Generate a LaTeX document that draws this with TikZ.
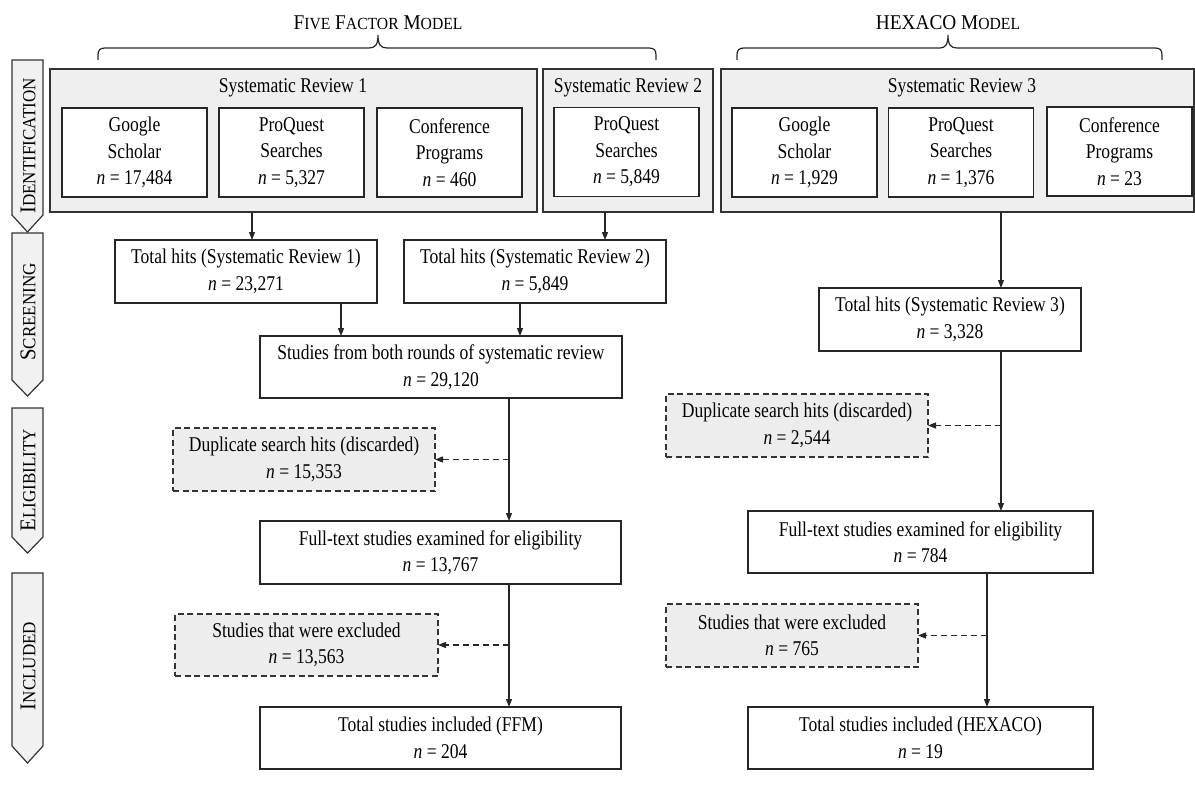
\documentclass[tikz,border=0pt]{standalone}
\usepackage{fontspec}
\setmainfont{Liberation Serif}[FakeStretch=0.835]
\newfontfamily\lblfont{Liberation Serif}[FakeStretch=0.92]
\usetikzlibrary{arrows.meta}
\definecolor{panelgray}{HTML}{EFEFEF}
\definecolor{dashgray}{HTML}{EDEDED}
\definecolor{chevgray}{HTML}{F1F1F1}
\definecolor{linegray}{HTML}{333333}
\newcommand{\smc}[1]{{\fontsize{17}{20}\selectfont #1}}
\newcommand{\smcl}[1]{{\fontsize{18.5}{20}\selectfont #1}}
\begin{document}
\begin{tikzpicture}[x=1pt,y=-1pt,
  every node/.style={font=\fontsize{21}{26.5}\selectfont, inner sep=0pt, outer sep=0pt},
  panel/.style={draw=linegray, line width=1.3pt, fill=panelgray},
  wbox/.style={draw=black!85, line width=1.5pt, fill=white, align=center},
  dbox/.style={draw=black!80, line width=1.3pt, dash pattern=on 6pt off 3.5pt, fill=dashgray, align=center},
  arr/.style={-{Triangle[length=8pt,width=6pt]}, line width=1.2pt, draw=black!85},
  darr/.style={arr, dash pattern=on 6pt off 4pt},
  chev/.style={draw=linegray, line width=1.2pt, fill=chevgray},
  brc/.style={draw=black!85, line width=1.2pt},
  lbl/.style={rotate=90, font=\lblfont\fontsize{22.5}{24}\selectfont},
  hdr/.style={font=\lblfont\fontsize{21}{24}\selectfont},
]
\useasboundingbox (0,0) rectangle (1195,800);

% headers and braces
\node[hdr] (hffm) at (378,23) {F\smc{IVE} F\smc{ACTOR} M\smc{ODEL}};
\node[hdr] (hhex) at (948,23) {HEXACO M\smc{ODEL}};
\draw[brc] (98,60) -- (98,55) .. controls (98,50) and (100,48) .. (105,48) -- (369,48)
  .. controls (375,48) and (378,45) .. (378,35) .. controls (378,45) and (381,48) .. (387,48)
  -- (649,48) .. controls (654,48) and (656,50) .. (656,55) -- (656,60);
\draw[brc] (737,60) -- (737,55) .. controls (737,50) and (739,48) .. (744,48) -- (940,48)
  .. controls (945,48) and (948,45) .. (948,35) .. controls (948,45) and (951,48) .. (957,48)
  -- (1155,48) .. controls (1160,48) and (1162,50) .. (1162,55) -- (1162,60);

% stage chevrons
\draw[chev] (12,60) -- (43,60) -- (43,215) -- (27.5,232) -- (12,215) -- cycle;
\draw[chev] (12,233) -- (43,233) -- (43,380) -- (27.5,396) -- (12,380) -- cycle;
\draw[chev] (12,408) -- (43,408) -- (43,537) -- (27.5,553) -- (12,537) -- cycle;
\draw[chev] (12,573) -- (43,573) -- (43,746) -- (27.5,763) -- (12,746) -- cycle;
\node[lbl] (sid) at (28,146) {I\smcl{DENTIFICATION}};
\node[lbl] (ssc) at (28,312) {S\smcl{CREENING}};
\node[lbl] (sel) at (28,480) {E\smcl{LIGIBILITY}};
\node[lbl] (sin) at (28,666) {I\smcl{NCLUDED}};

% panels
\node[panel, minimum width=487pt, minimum height=143pt] (p1) at (293.5,140.5) {};
\node[panel, minimum width=170pt, minimum height=143pt] (p2) at (628,140.5) {};
\node[panel, minimum width=473pt, minimum height=143pt] (p3) at (957.5,140.5) {};
\node (tp1) at (293,88) {Systematic Review 1};
\node (tp2) at (628,88) {Systematic Review 2};
\node (tp3) at (962,88) {Systematic Review 3};

% source boxes
\tikzset{src/.style={wbox, minimum width=145pt, minimum height=89pt}}
\node[src] (g1) at (134.5,152.5) {Google\\Scholar\\\textit{n} = 17,484};
\node[src] (q1) at (291.5,152.5) {ProQuest\\Searches\\\textit{n} = 5,327};
\node[src] (c1) at (449.5,152.5) {Conference\\Programs\\\textit{n} = 460};
\node[src] (q2) at (626.5,152) {ProQuest\\Searches\\\textit{n} = 5,849};
\node[src] (g3) at (804.5,152.5) {Google\\Scholar\\\textit{n} = 1,929};
\node[src] (q3) at (961,152.5) {ProQuest\\Searches\\\textit{n} = 1,376};
\node[src] (c3) at (1119.5,151.5) {Conference\\Programs\\\textit{n} = 23};

% flow boxes
\node[wbox, minimum width=262pt, minimum height=63pt] (t1) at (246,271.5) {Total hits (Systematic Review 1)\\\textit{n} = 23,271};
\node[wbox, minimum width=262pt, minimum height=63pt] (t2) at (535,271.5) {Total hits (Systematic Review 2)\\\textit{n} = 5,849};
\node[wbox, minimum width=362pt, minimum height=62pt] (st) at (441,367) {Studies from both rounds of systematic review\\\textit{n} = 29,120};
\node[wbox, minimum width=262pt, minimum height=63pt] (t3) at (950,319.5) {Total hits (Systematic Review 3)\\\textit{n} = 3,328};

\node[dbox, minimum width=262pt, minimum height=63pt] (d1) at (304,459.5) {Duplicate search hits (discarded)\\\textit{n} = 15,353};
\node[dbox, minimum width=262pt, minimum height=63pt] (d3) at (797,425.5) {Duplicate search hits (discarded)\\\textit{n} = 2,544};

\node[wbox, minimum width=361pt, minimum height=63pt] (f1) at (440.5,552.5) {Full-text studies examined for eligibility\\\textit{n} = 13,767};
\node[wbox, minimum width=345pt, minimum height=62pt] (f3) at (920.5,542) {Full-text studies examined for eligibility\\\textit{n} = 784};

\node[dbox, minimum width=263pt, minimum height=62pt] (e1) at (306.5,645) {Studies that were excluded\\\textit{n} = 13,563};
\node[dbox, minimum width=252pt, minimum height=63pt] (e3) at (792,635.5) {Studies that were excluded\\\textit{n} = 765};

\node[wbox, minimum width=361pt, minimum height=62pt] (i1) at (440.5,738) {Total studies included (FFM)\\\textit{n} = 204};
\node[wbox, minimum width=345pt, minimum height=62pt] (i3) at (920.5,738) {Total studies included (HEXACO)\\\textit{n} = 19};

% connector x positions
\coordinate (xa) at (252,0);
\coordinate (xb) at (605,0);
\coordinate (xc) at (1001,0);
\coordinate (xd) at (341,0);
\coordinate (xe) at (520,0);
\coordinate (xf) at (509,0);
\coordinate (xg) at (987,0);

\draw[arr] (xa |- p1.south) -- (xa |- t1.north);
\draw[arr] (xb |- p2.south) -- (xb |- t2.north);
\draw[arr] (xc |- p3.south) -- (xc |- t3.north);
\draw[arr] (xd |- t1.south) -- (xd |- st.north);
\draw[arr] (xe |- t2.south) -- (xe |- st.north);
\draw[arr] (xf |- st.south) -- (xf |- f1.north);
\draw[arr] (xf |- f1.south) -- (xf |- i1.north);
\draw[arr] (xc |- t3.south) -- (xc |- f3.north);
\draw[arr] (xg |- f3.south) -- (xg |- i3.north);

\coordinate (j1) at (xf |- d1.east);
\coordinate (j2) at (xf |- e1.east);
\coordinate (j3) at (xc |- d3.east);
\coordinate (j4) at (xg |- e3.east);
\draw[darr] (j1) -- (d1.east);
\draw[darr] (j2) -- (e1.east);
\draw[darr] (j3) -- (d3.east);
\draw[darr] (j4) -- (e3.east);
\end{tikzpicture}
\end{document}
